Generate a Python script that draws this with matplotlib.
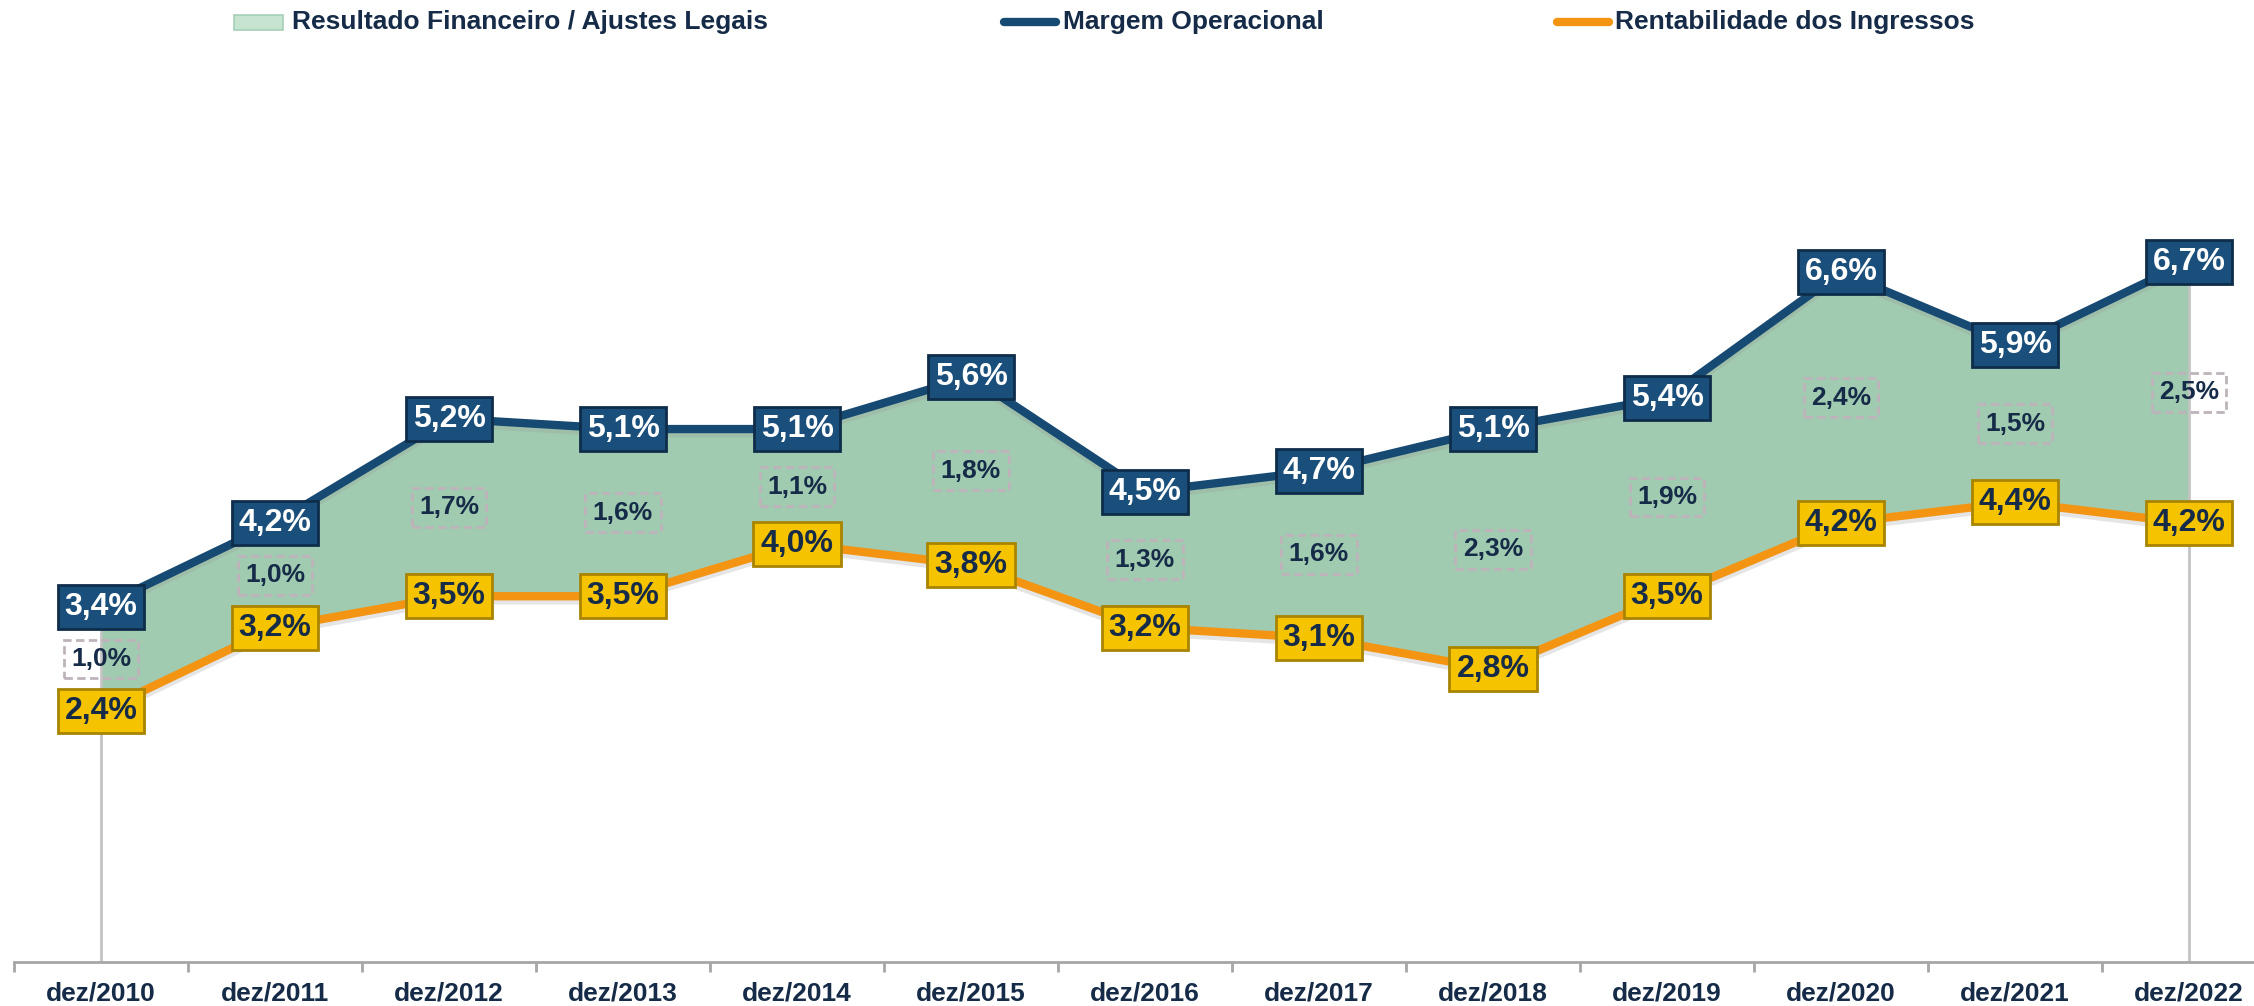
import numpy as np
import matplotlib.pyplot as plt
from matplotlib.lines import Line2D
from matplotlib.patches import Rectangle
import matplotlib.patheffects as pe

plt.rcParams['font.family'] = ['Liberation Sans', 'DejaVu Sans']

# data
periods = ['dez/2010', 'dez/2011', 'dez/2012', 'dez/2013', 'dez/2014', 'dez/2015', 'dez/2016',
           'dez/2017', 'dez/2018', 'dez/2019', 'dez/2020', 'dez/2021', 'dez/2022']
margem_operacional = [3.4, 4.2, 5.2, 5.1, 5.1, 5.6, 4.5, 4.7, 5.1, 5.4, 6.6, 5.9, 6.7]
rentabilidade_ingressos = [2.4, 3.2, 3.5, 3.5, 4.0, 3.8, 3.2, 3.1, 2.8, 3.5, 4.2, 4.4, 4.2]
resultado_financeiro = [1.0, 1.0, 1.7, 1.6, 1.1, 1.8, 1.3, 1.6, 2.3, 1.9, 2.4, 1.5, 2.5]

NAVY = '#152b47'
BLUE = '#174a72'
ORANGE = '#f39512'
GREEN = '#a0cbb0'

W, H = 2254, 1006
fig = plt.figure(figsize=(W / 100, H / 100), dpi=100)
ax = fig.add_axes([14 / W, (H - 962) / H, 1 - 14 / W, 962 / H])

x = np.arange(len(periods))
mo = np.array(margem_operacional)
ri = np.array(rentabilidade_ingressos)

# areas
ax.fill_between(x, 0, ri, color='white', zorder=1)
ax.fill_between(x, ri, mo, color=GREEN, zorder=1, linewidth=0)
ax.vlines([x[0]], 0, mo[0], color='#c4c4c4', lw=2, zorder=1.5)
ax.vlines([x[-1]], 0, mo[-1], color='#c4c4c4', lw=2, zorder=1.5)

shadow = [pe.SimpleLineShadow(offset=(0, -3), shadow_color='#999999', alpha=0.25), pe.Normal()]
ax.plot(x, ri, color=ORANGE, lw=6, zorder=3, solid_capstyle='butt', path_effects=shadow)
ax.plot(x, mo, color=BLUE, lw=6, zorder=3, solid_capstyle='butt', path_effects=shadow)

# labels
def fmt(v):
    return f'{v:.1f}%'.replace('.', ',')

for i in range(len(periods)):
    ax.text(x[i], mo[i], fmt(mo[i]), ha='center', va='center', fontsize=23, fontweight='bold',
            color='white', zorder=5,
            bbox=dict(boxstyle='square,pad=0.22', facecolor='#1b4f7b', edgecolor='#0e2d4a', lw=2))
    ax.text(x[i], ri[i], fmt(ri[i]), ha='center', va='center', fontsize=23, fontweight='bold',
            color=NAVY, zorder=5,
            bbox=dict(boxstyle='square,pad=0.22', facecolor='#f6c300', edgecolor='#a88400', lw=2))
    mid = (mo[i] + ri[i]) / 2
    ax.text(x[i], mid, fmt(resultado_financeiro[i]), ha='center', va='center', fontsize=19,
            fontweight='bold', color=NAVY, zorder=4,
            bbox=dict(boxstyle='square,pad=0.28', facecolor='none', edgecolor='#bfb3bb',
                      lw=2, linestyle=(0, (3, 1.6))))

for s in ['top', 'right', 'left']:
    ax.spines[s].set_visible(False)
ax.spines['bottom'].set_color('#a6a6a6')
ax.spines['bottom'].set_linewidth(2)
ax.set_yticks([])
ax.set_xticks(np.arange(len(periods) + 1) - 0.5)
ax.set_xticklabels([])
ax.tick_params(axis='x', which='major', length=7, width=2, color='#a6a6a6')
ax.set_xticks(x, minor=True)
ax.set_xticklabels(periods, minor=True, fontsize=19, fontweight='bold', color=NAVY)
ax.tick_params(axis='x', which='minor', length=0, pad=14)

# limits after ticks so set_xticks does not widen the view
ax.set_xlim(-0.5, (W - 14) / 174 - 0.5)
ax.set_ylim(0, 962 / 104.5)

# legend (drawn by hand to match positions)
ly = 1 - 22 / H
fig.add_artist(Rectangle((234 / W, 1 - 30 / H), 49 / W, 15 / H, transform=fig.transFigure,
                         facecolor='#c6e5d1', edgecolor='#a6cfb7', lw=1.2))
fig.text(292 / W, ly, 'Resultado Financeiro / Ajustes Legais', fontsize=19, fontweight='bold',
         color=NAVY, va='center', ha='left')
fig.add_artist(Line2D([1004 / W, 1056 / W], [ly, ly], transform=fig.transFigure, color=BLUE,
                      lw=6, solid_capstyle='round'))
fig.text(1063 / W, ly, 'Margem Operacional', fontsize=19, fontweight='bold',
         color=NAVY, va='center', ha='left')
fig.add_artist(Line2D([1557 / W, 1609 / W], [ly, ly], transform=fig.transFigure, color=ORANGE,
                      lw=6, solid_capstyle='round'))
fig.text(1615 / W, ly, 'Rentabilidade dos Ingressos', fontsize=19, fontweight='bold',
         color=NAVY, va='center', ha='left')

fig.savefig('out.png', dpi=100)
